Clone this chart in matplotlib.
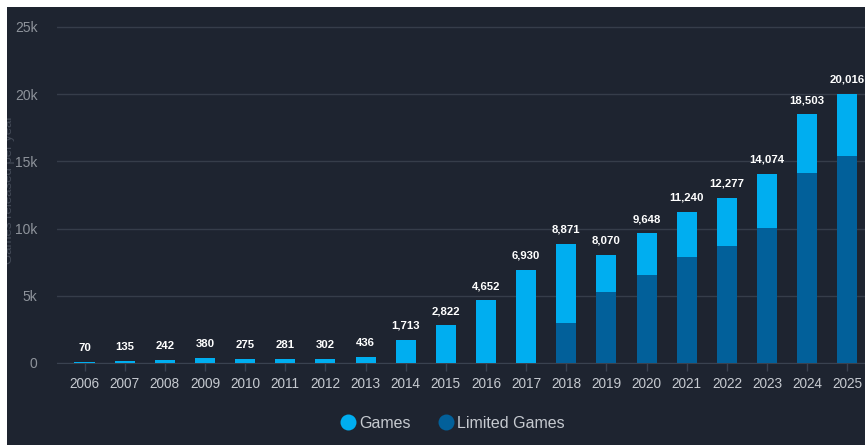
import matplotlib.pyplot as plt
from matplotlib.patches import Rectangle
from matplotlib.lines import Line2D
import numpy as np

plt.rcParams['font.family'] = ['Liberation Sans', 'DejaVu Sans']

# Steam releases per year
years = ['2006', '2007', '2008', '2009', '2010', '2011', '2012', '2013', '2014', '2015',
         '2016', '2017', '2018', '2019', '2020', '2021', '2022', '2023', '2024', '2025']
totals = [70, 135, 242, 380, 275, 281, 302, 436, 1713, 2822,
          4652, 6930, 8871, 8070, 9648, 11240, 12277, 14074, 18503, 20016]
limited = [0, 0, 0, 0, 0, 0, 0, 0, 0, 0,
           0, 0, 2960, 5270, 6570, 7890, 8730, 10050, 14100, 15420]
yticks = [0, 5000, 10000, 15000, 20000, 25000]
ytick_labels = ['0', '5k', '10k', '15k', '20k', '25k']

bg = '#1e2430'
c_games = '#00aef0'
c_limited = '#02609a'
c_grid = '#363d4a'

W, H = 865, 445
fig = plt.figure(figsize=(W / 100, H / 100), dpi=100, facecolor='white')

# dark panel, with a thin white strip along left and top
fig.patches.append(Rectangle((7 / W, 0), 1 - 7 / W, 1 - 7 / H, transform=fig.transFigure,
                             facecolor=bg, edgecolor='none', zorder=-10))

ax = fig.add_axes([57 / W, (H - 363) / H, 1 - 57 / W, (363 - 25.6) / H])
ax.set_facecolor('none')

x = np.arange(len(years))
games_part = np.array(totals) - np.array(limited)
ax.bar(x, limited, width=0.5, color=c_limited, zorder=3)
ax.bar(x, games_part, width=0.5, bottom=limited, color=c_games, zorder=3)

for xi, t in zip(x, totals):
    ax.annotate(f'{t:,}', (xi, t), xytext=(0, 6.5), textcoords='offset points',
                ha='center', va='bottom', color='white', fontsize=8.2, fontweight='bold')

ax.set_xlim(-0.685, 19.44)
ax.set_ylim(0, 25100)
ax.set_yticks(yticks)
ax.set_yticklabels(ytick_labels)
ax.set_xticks(x)
ax.set_xticklabels(years)
ax.grid(axis='y', color=c_grid, linewidth=1, zorder=0)
for s in ['top', 'right', 'left']:
    ax.spines[s].set_visible(False)
ax.spines['bottom'].set_color('#3a4250')
ax.tick_params(axis='y', length=0, pad=14, labelsize=10, labelcolor='#8e939b')
ax.tick_params(axis='x', length=6, width=1, color='#3a4250', pad=4,
               labelsize=9.8, labelcolor='#c6cad0')

fig.text(9 / W, 1 - 190 / H, 'Games released per year', rotation=90, ha='center',
         va='center', color='#444b58', fontsize=9.5)
# cover whatever falls on the white strips
fig.patches.append(Rectangle((0, 0), 7 / W, 1, transform=fig.transFigure,
                             facecolor='white', edgecolor='none', zorder=10))
fig.patches.append(Rectangle((0, 1 - 7 / H), 1, 7 / H, transform=fig.transFigure,
                             facecolor='white', edgecolor='none', zorder=10))

handles = [Line2D([], [], marker='o', linestyle='none', markersize=11.5,
                  markerfacecolor=c_games, markeredgecolor='none', label='Games'),
           Line2D([], [], marker='o', linestyle='none', markersize=11.5,
                  markerfacecolor=c_limited, markeredgecolor='none', label='Limited Games')]
fig.legend(handles=handles, loc='center', bbox_to_anchor=(452 / W, 1 - 423 / H), ncol=2,
           frameon=False, fontsize=11.5, labelcolor='#c6cad0', handletextpad=0.1,
           columnspacing=1.6, handlelength=1.2)

fig.savefig('out.png', dpi=100, facecolor='white')
